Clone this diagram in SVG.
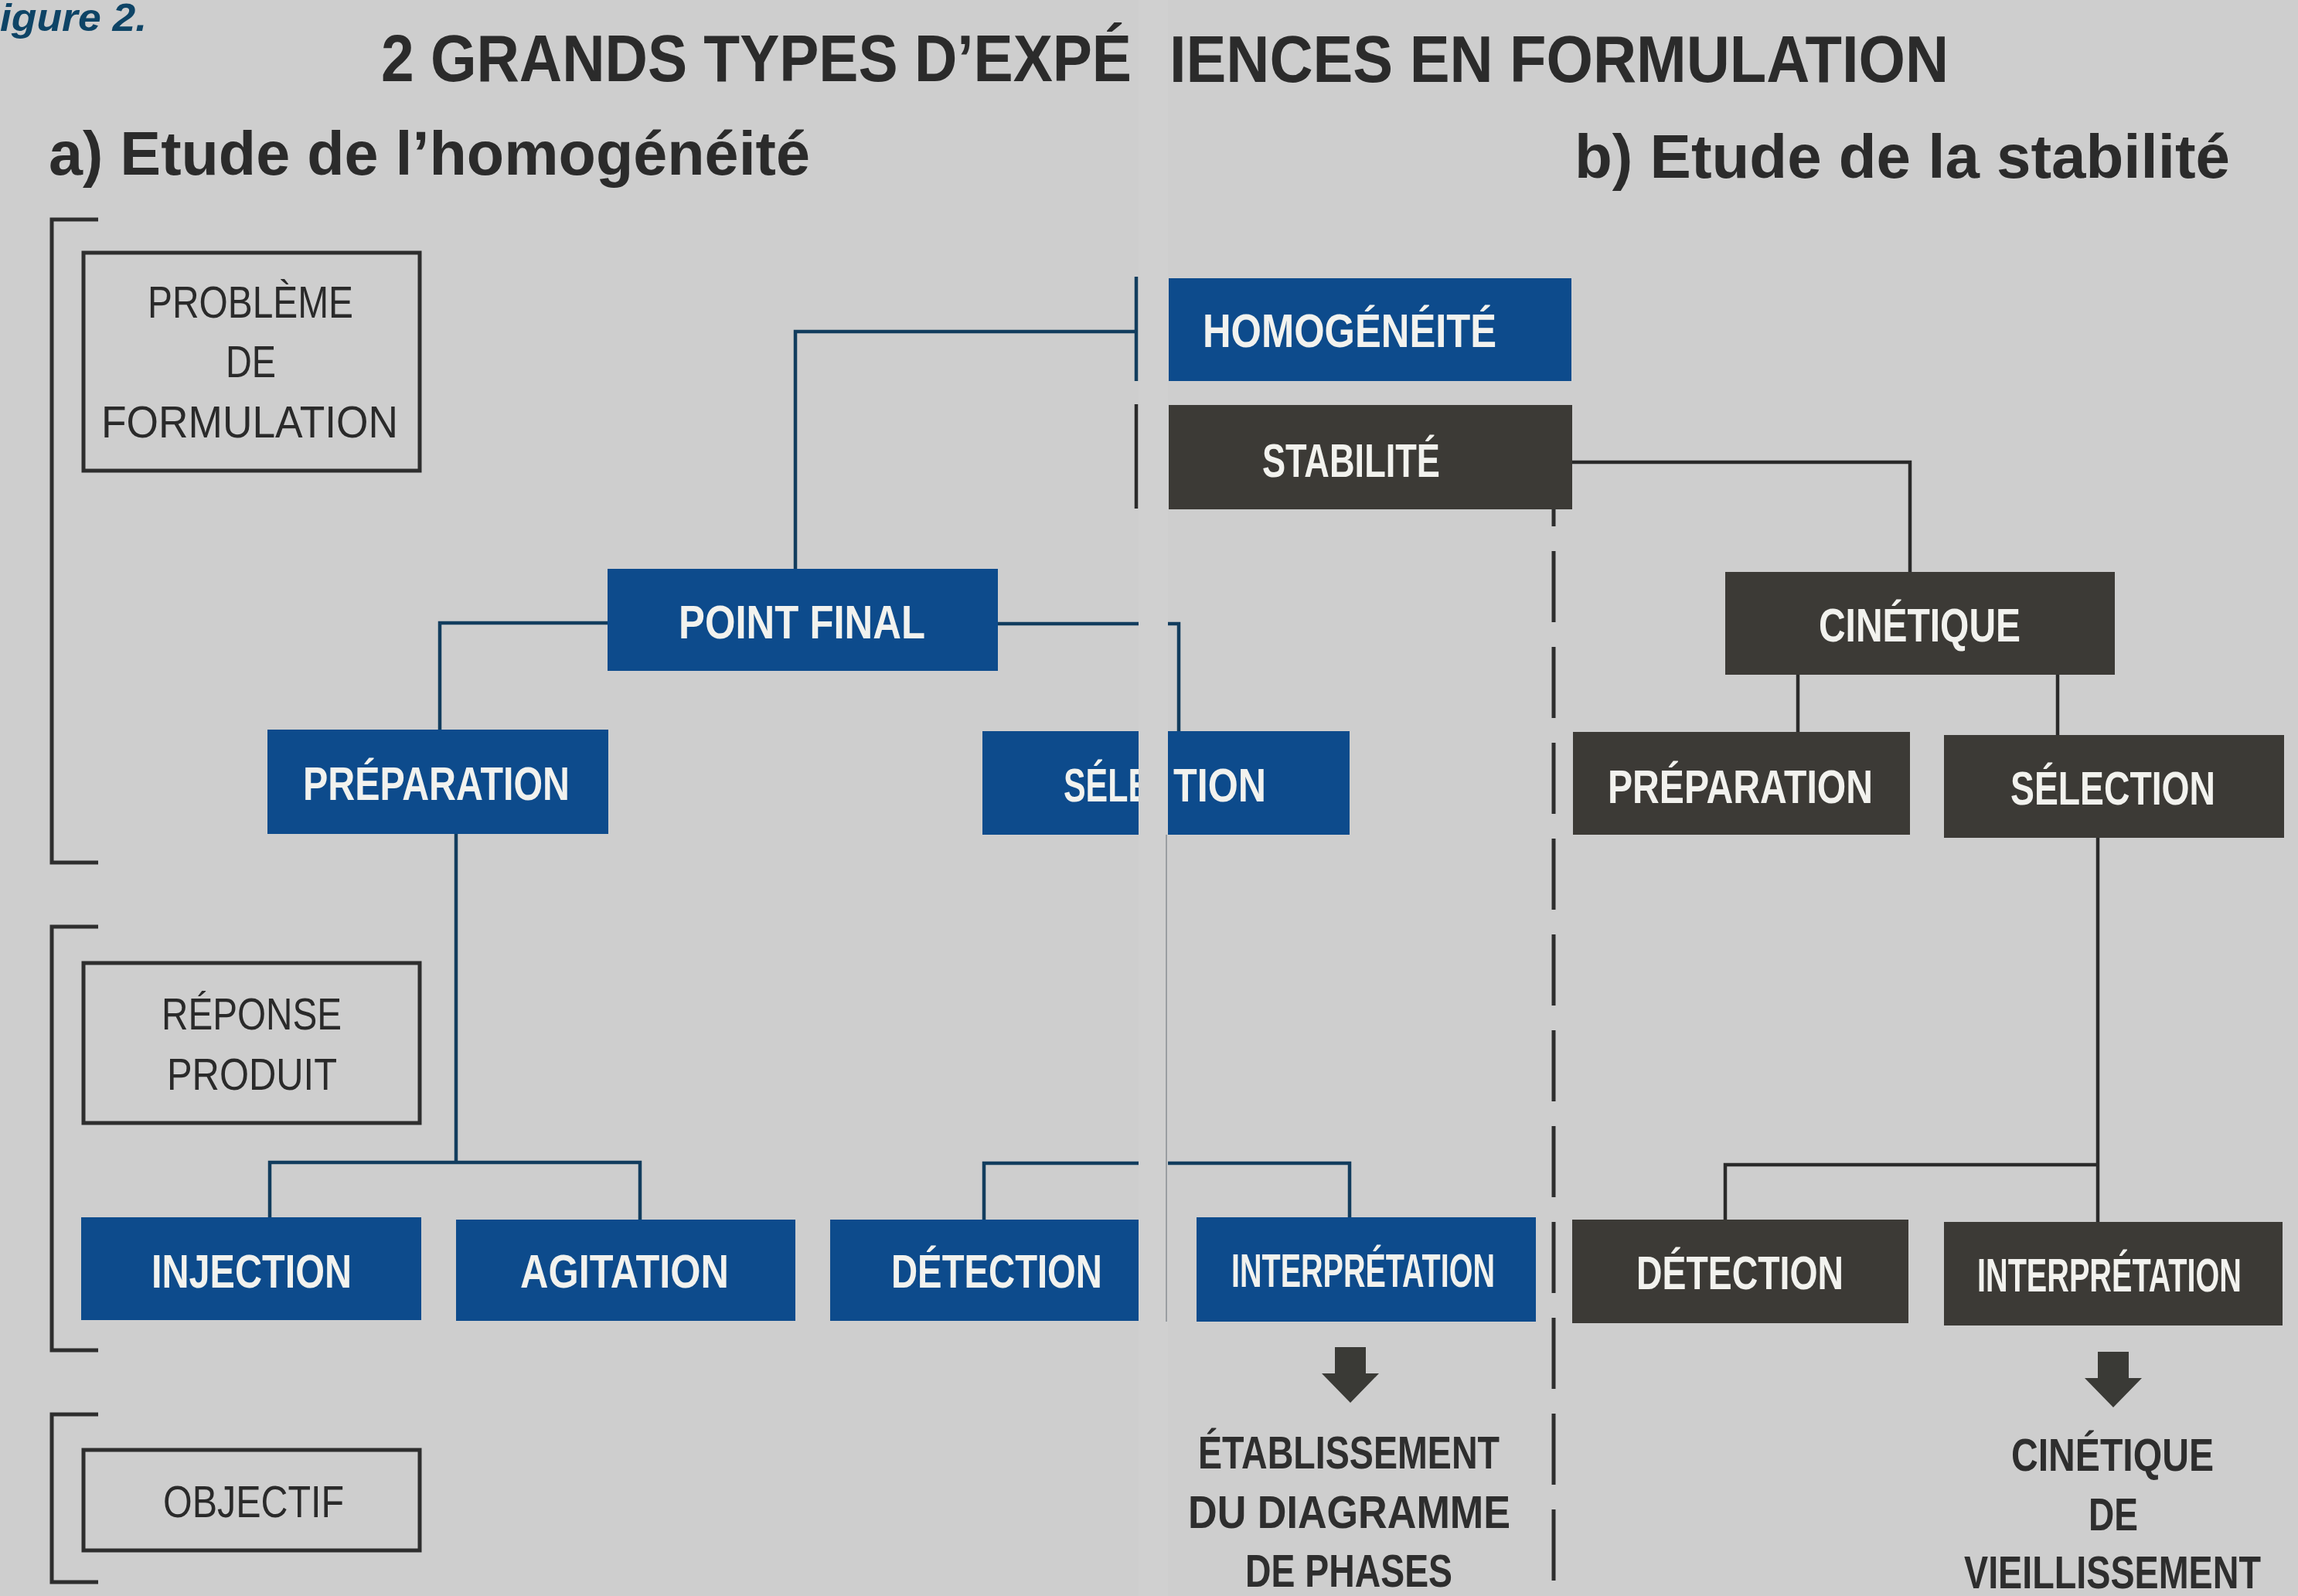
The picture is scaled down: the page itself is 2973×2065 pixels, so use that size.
<svg xmlns="http://www.w3.org/2000/svg" width="2973" height="2065" viewBox="0 0 2973 2065">
<style>
  .bg { fill: #cecece; }
  .blue { fill: #0d4b8c; }
  .dark { fill: #3c3a36; }
  .lbl { fill: none; stroke: #2e2e2e; stroke-width: 5; }
  .brk { fill: none; stroke: #2e2e2e; stroke-width: 5; }
  .nt { font-family: "Liberation Sans", Arial, sans-serif; font-weight: bold; font-size: 62px; fill: #f2f2ee; }
  .lt { font-family: "Liberation Sans", Arial, sans-serif; font-size: 58px; fill: #2a2a2a; }
  .ot { font-family: "Liberation Sans", Arial, sans-serif; font-weight: bold; font-size: 60px; fill: #2e2e2e; }
  .tt { font-family: "Liberation Sans", Arial, sans-serif; font-weight: bold; font-size: 86px; fill: #2b2b2b; }
  .ht { font-family: "Liberation Sans", Arial, sans-serif; font-weight: bold; font-size: 80px; fill: #2b2b2b; }
  .ft { font-family: "Liberation Sans", Arial, sans-serif; font-weight: bold; font-style: italic; font-size: 50px; fill: #0e4466; }
  .cb { fill: none; stroke: #123d5e; stroke-width: 4.5; }
  .cd { fill: none; stroke: #2a2a2a; stroke-width: 4.5; }
  .dash { fill: none; stroke: #2e2e2e; stroke-width: 5; stroke-dasharray: 92 32; }
  .arrow { fill: #3a3a36; }
</style>
<rect class="bg" x="0" y="0" width="2973" height="2065"/>

<g id="headings">
  <text class="ft" x="0" y="40" textLength="190" lengthAdjust="spacingAndGlyphs">igure 2.</text>
  <text class="tt" x="493" y="105" textLength="971" lengthAdjust="spacingAndGlyphs">2 GRANDS TYPES D’EXPÉ</text>
  <text class="tt" x="1513" y="106" textLength="1008" lengthAdjust="spacingAndGlyphs">IENCES EN FORMULATION</text>
  <text class="ht" x="63" y="226" textLength="985" lengthAdjust="spacingAndGlyphs">a) Etude de l’homogénéité</text>
  <text class="ht" x="2037" y="230" textLength="848" lengthAdjust="spacingAndGlyphs">b) Etude de la stabilité</text>
</g>

<g id="brackets">
  <path class="brk" d="M127,284 H67 V1116 H127"/>
  <path class="brk" d="M127,1199 H67 V1747 H127"/>
  <path class="brk" d="M127,1830 H67 V2047 H127"/>
</g>

<g id="label-probleme">
  <rect class="lbl" x="108" y="327" width="435" height="282"/>
  <text class="lt" x="191" y="411" textLength="266" lengthAdjust="spacingAndGlyphs">PROBLÈME</text>
  <text class="lt" x="292" y="488" textLength="65" lengthAdjust="spacingAndGlyphs">DE</text>
  <text class="lt" x="131" y="566" textLength="384" lengthAdjust="spacingAndGlyphs">FORMULATION</text>
</g>
<g id="label-reponse">
  <rect class="lbl" x="108" y="1246" width="435" height="207"/>
  <text class="lt" x="209" y="1332" textLength="233" lengthAdjust="spacingAndGlyphs">RÉPONSE</text>
  <text class="lt" x="216" y="1410" textLength="220" lengthAdjust="spacingAndGlyphs">PRODUIT</text>
</g>
<g id="label-objectif">
  <rect class="lbl" x="108" y="1876" width="435" height="130"/>
  <text class="lt" x="211" y="1963" textLength="234" lengthAdjust="spacingAndGlyphs">OBJECTIF</text>
</g>

<g id="connectors">
  <path class="cb" d="M1029,736 V429 H1470"/>
  <path class="cb" d="M1470,358 V493"/>
  <path class="cd" d="M1470,523 V658"/>
  <path class="cb" d="M786,806 H569 V944"/>
  <path class="cb" d="M1291,807 H1525 V946"/>
  <path class="cb" d="M590,1079 V1504"/>
  <path class="cb" d="M349,1575 V1504 H828 V1578"/>
  <path class="cb" d="M1273,1578 V1505 H1746 V1575"/>
  <path class="cd" d="M2034,598 H2471 V740"/>
  <path class="cd" d="M2326,873 V947"/>
  <path class="cd" d="M2662,873 V951"/>
  <path class="cd" d="M2714,1084 V1581"/>
  <path class="cd" d="M2232,1578 V1507 H2714"/>
  <path class="dash" d="M2010,658 V2045" stroke-dashoffset="69"/>
</g>

<g id="node-homogeneite">
  <rect class="blue" x="1512" y="360" width="521" height="133"/>
  <text class="nt" x="1556" y="449" textLength="380" lengthAdjust="spacingAndGlyphs">HOMOGÉNÉITÉ</text>
</g>
<g id="node-stabilite">
  <rect class="dark" x="1512" y="524" width="522" height="135"/>
  <text class="nt" x="1633" y="617" textLength="230" lengthAdjust="spacingAndGlyphs">STABILITÉ</text>
</g>
<g id="node-point-final">
  <rect class="blue" x="786" y="736" width="505" height="132"/>
  <text class="nt" x="878" y="826" textLength="319" lengthAdjust="spacingAndGlyphs">POINT FINAL</text>
</g>
<g id="node-preparation-a">
  <rect class="blue" x="346" y="944" width="441" height="135"/>
  <text class="nt" x="392" y="1035" textLength="345" lengthAdjust="spacingAndGlyphs">PRÉPARATION</text>
</g>
<g id="node-selection-a">
  <rect class="blue" x="1271" y="946" width="475" height="134"/>
  <text class="nt" x="1376" y="1037" textLength="112" lengthAdjust="spacingAndGlyphs">SÉLE</text>
  <text class="nt" x="1518" y="1037" textLength="120" lengthAdjust="spacingAndGlyphs">TION</text>
</g>
<g id="node-injection">
  <rect class="blue" x="105" y="1575" width="440" height="133"/>
  <text class="nt" x="196" y="1666" textLength="259" lengthAdjust="spacingAndGlyphs">INJECTION</text>
</g>
<g id="node-agitation">
  <rect class="blue" x="590" y="1578" width="439" height="131"/>
  <text class="nt" x="673" y="1666" textLength="270" lengthAdjust="spacingAndGlyphs">AGITATION</text>
</g>
<g id="node-detection-a">
  <rect class="blue" x="1074" y="1578" width="436" height="131"/>
  <text class="nt" x="1153" y="1666" textLength="273" lengthAdjust="spacingAndGlyphs">DÉTECTION</text>
</g>
<g id="node-interpretation-a">
  <rect class="blue" x="1548" y="1575" width="439" height="135"/>
  <text class="nt" x="1593" y="1665" textLength="341" lengthAdjust="spacingAndGlyphs">INTERPRÉTATION</text>
</g>
<g id="node-cinetique">
  <rect class="dark" x="2232" y="740" width="504" height="133"/>
  <text class="nt" x="2353" y="830" textLength="261" lengthAdjust="spacingAndGlyphs">CINÉTIQUE</text>
</g>
<g id="node-preparation-b">
  <rect class="dark" x="2035" y="947" width="436" height="133"/>
  <text class="nt" x="2080" y="1039" textLength="343" lengthAdjust="spacingAndGlyphs">PRÉPARATION</text>
</g>
<g id="node-selection-b">
  <rect class="dark" x="2515" y="951" width="440" height="133"/>
  <text class="nt" x="2601" y="1041" textLength="265" lengthAdjust="spacingAndGlyphs">SÉLECTION</text>
</g>
<g id="node-detection-b">
  <rect class="dark" x="2034" y="1578" width="435" height="134"/>
  <text class="nt" x="2117" y="1668" textLength="268" lengthAdjust="spacingAndGlyphs">DÉTECTION</text>
</g>
<g id="node-interpretation-b">
  <rect class="dark" x="2515" y="1581" width="438" height="134"/>
  <text class="nt" x="2558" y="1671" textLength="342" lengthAdjust="spacingAndGlyphs">INTERPRÉTATION</text>
</g>

<g id="outcome-a">
  <path class="arrow" d="M1727,1743 H1767 V1777 H1784 L1747,1815 L1710,1777 H1727 Z"/>
  <text class="ot" x="1550" y="1900" textLength="390" lengthAdjust="spacingAndGlyphs">ÉTABLISSEMENT</text>
  <text class="ot" x="1537" y="1977" textLength="417" lengthAdjust="spacingAndGlyphs">DU DIAGRAMME</text>
  <text class="ot" x="1611" y="2053" textLength="268" lengthAdjust="spacingAndGlyphs">DE PHASES</text>
</g>
<g id="outcome-b">
  <path class="arrow" d="M2714,1749 H2754 V1783 H2771 L2734,1821 L2697,1783 H2714 Z"/>
  <text class="ot" x="2602" y="1903" textLength="262" lengthAdjust="spacingAndGlyphs">CINÉTIQUE</text>
  <text class="ot" x="2702" y="1980" textLength="64" lengthAdjust="spacingAndGlyphs">DE</text>
  <text class="ot" x="2541" y="2055" textLength="384" lengthAdjust="spacingAndGlyphs">VIEILLISSEMENT</text>
</g>

<rect x="1473" y="0" width="38" height="2065" fill="#d0d0d0"/>
<path d="M1509,1080 V1710" fill="none" stroke="#9a9ea2" stroke-width="2"/>
</svg>
